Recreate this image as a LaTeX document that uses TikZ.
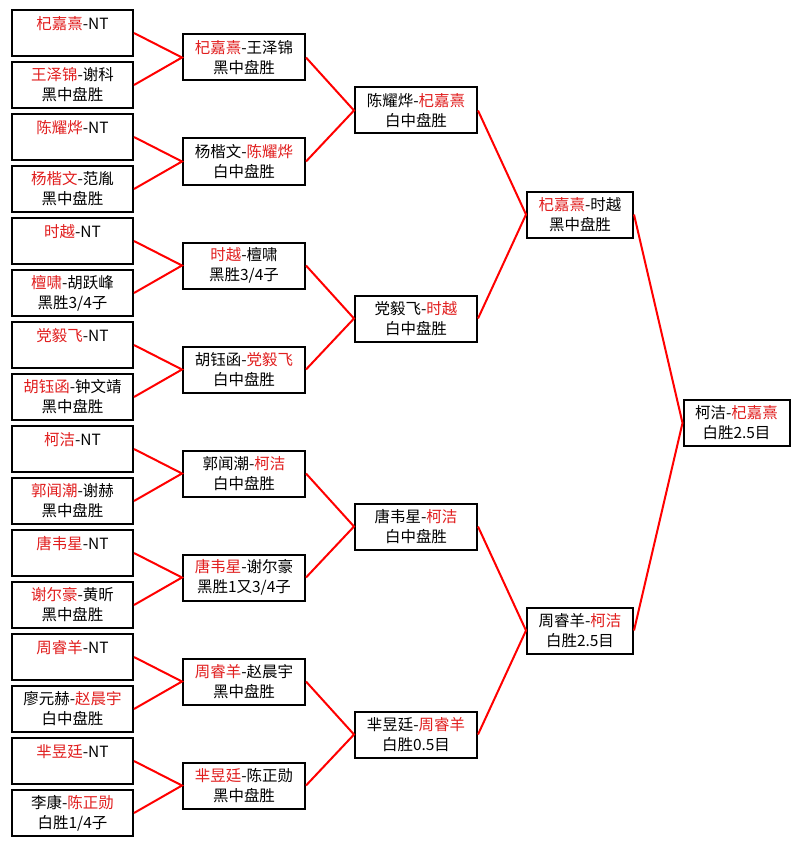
\documentclass[tikz,border=0pt]{standalone}
\usepackage{fontspec}
\setmainfont{Noto Sans CJK SC}
\usepackage{tikz}
\usetikzlibrary{positioning}
\definecolor{winred}{RGB}{225,30,30}
\newcommand{\wn}[1]{\textcolor{winred}{#1}}

\begin{document}
\begin{tikzpicture}[x=0.75pt,y=-0.75pt,
      every node/.style={font=\fontsize{11.6}{15}\selectfont},
      match/.style={draw,line width=1.5pt,align=center,inner sep=0pt,minimum height=34.5pt},
      first/.style={match,minimum width=90.75pt},
      second/.style={match,minimum width=91.5pt},
      late/.style={match,minimum width=79.5pt},
      link/.style={red,line width=1.5pt}]
      \useasboundingbox[fill=white] (0,0) rectangle (800,845);
      % first round
      \node[first] (p1) at (72.5,33) {\wn{杞嘉熹}-NT\\~};
      \node[first] (p2) at (72.5,85) {\wn{王泽锦}-谢科\\黑中盘胜};
      \node[first] (p3) at (72.5,137) {\wn{陈耀烨}-NT\\~};
      \node[first] (p4) at (72.5,189) {\wn{杨楷文}-范胤\\黑中盘胜};
      \node[first] (p5) at (72.5,241) {\wn{时越}-NT\\~};
      \node[first] (p6) at (72.5,293) {\wn{檀啸}-胡跃峰\\黑胜3/4子};
      \node[first] (p7) at (72.5,345) {\wn{党毅飞}-NT\\~};
      \node[first] (p8) at (72.5,397) {\wn{胡钰函}-钟文靖\\黑中盘胜};
      \node[first] (p9) at (72.5,449) {\wn{柯洁}-NT\\~};
      \node[first] (p10) at (72.5,501) {\wn{郭闻潮}-谢赫\\黑中盘胜};
      \node[first] (p11) at (72.5,553) {\wn{唐韦星}-NT\\~};
      \node[first] (p12) at (72.5,605) {\wn{谢尔豪}-黄昕\\黑中盘胜};
      \node[first] (p13) at (72.5,657) {\wn{周睿羊}-NT\\~};
      \node[first] (p14) at (72.5,709) {廖元赫-\wn{赵晨宇}\\白中盘胜};
      \node[first] (p15) at (72.5,761) {\wn{芈昱廷}-NT\\~};
      \node[first] (p16) at (72.5,813) {李康-\wn{陈正勋}\\白胜1/4子};
      % second round
      \node[second] (q1) at (244,57.5) {\wn{杞嘉熹}-王泽锦\\黑中盘胜};
      \node[second] (q2) at (244,161.5) {杨楷文-\wn{陈耀烨}\\白中盘胜};
      \node[second] (q3) at (244,265.5) {\wn{时越}-檀啸\\黑胜3/4子};
      \node[second] (q4) at (244,369.5) {胡钰函-\wn{党毅飞}\\白中盘胜};
      \node[second] (q5) at (244,473.5) {郭闻潮-\wn{柯洁}\\白中盘胜};
      \node[second] (q6) at (244,577.5) {\wn{唐韦星}-谢尔豪\\黑胜1又3/4子};
      \node[second] (q7) at (244,681.5) {\wn{周睿羊}-赵晨宇\\黑中盘胜};
      \node[second] (q8) at (244,785.5) {\wn{芈昱廷}-陈正勋\\黑中盘胜};
      % quarter finals
      \node[second] (s1) at (416,110.5) {陈耀烨-\wn{杞嘉熹}\\白中盘胜};
      \node[second] (s2) at (416,318.5) {党毅飞-\wn{时越}\\白中盘胜};
      \node[second] (s3) at (416,526.5) {唐韦星-\wn{柯洁}\\白中盘胜};
      \node[second] (s4) at (416,734.5) {芈昱廷-\wn{周睿羊}\\白胜0.5目};
      % semi finals and final
      \node[late] (t1) at (580,214.5) {\wn{杞嘉熹}-时越\\黑中盘胜};
      \node[late] (t2) at (580,630.5) {周睿羊-\wn{柯洁}\\白胜2.5目};
      \node[late] (champ) at (736.5,423) {柯洁-\wn{杞嘉熹}\\白胜2.5目};
      \draw[link] (p1.east)--(q1.west)--(p2.east);
      \draw[link] (p3.east)--(q2.west)--(p4.east);
      \draw[link] (p5.east)--(q3.west)--(p6.east);
      \draw[link] (p7.east)--(q4.west)--(p8.east);
      \draw[link] (p9.east)--(q5.west)--(p10.east);
      \draw[link] (p11.east)--(q6.west)--(p12.east);
      \draw[link] (p13.east)--(q7.west)--(p14.east);
      \draw[link] (p15.east)--(q8.west)--(p16.east);
      \draw[link] (q1.east)--(s1.west)--(q2.east);
      \draw[link] (q3.east)--(s2.west)--(q4.east);
      \draw[link] (q5.east)--(s3.west)--(q6.east);
      \draw[link] (q7.east)--(s4.west)--(q8.east);
      \draw[link] (s1.east)--(t1.west)--(s2.east);
      \draw[link] (s3.east)--(t2.west)--(s4.east);
      \draw[link] (t1.east)--(champ.west)--(t2.east);
    \end{tikzpicture}
\end{document}
